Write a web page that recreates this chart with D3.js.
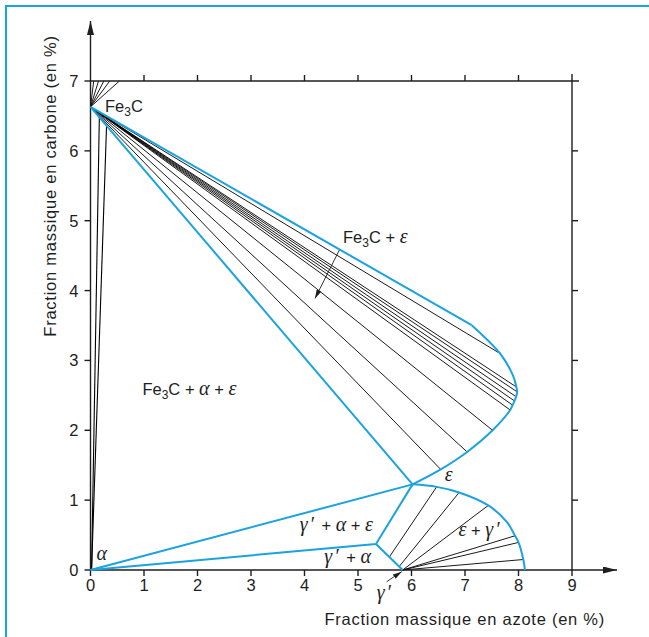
<!DOCTYPE html>
<html>
<head>
<meta charset="utf-8">
<script src="https://cdn.jsdelivr.net/npm/d3@7"></script>
<style>
  body { margin: 0; background: #fff; }
  svg { display: block; }
</style>
</head>
<body>
<div id="chart"></div>
<script>
// ---- data (mass % N on x, mass % C on y) ----
var xTicks = [0, 1, 2, 3, 4, 5, 6, 7, 8, 9]
var yTicks = [0, 1, 2, 3, 4, 5, 6, 7]

var fe3cPoint = [0, 6.63]
var alphaPoint = [0, 0]
var epsilonPoint = [6.02, 1.226]
var gammaAlphaCorner = [5.336, 0.372]
var gammaPoint = [5.835, 0]
var fe3cEpsCorner = [7.125, 3.505]

// Fe3C tie lines running up to the 7 % line
var fanTopX = [0.06, 0.15, 0.25, 0.36, 0.54]
// alpha tie lines running up to the Fe3C / eps boundary
var alphaTieEnds = [[0.165, 6.48], [0.30, 6.36]]

// eps boundary of the Fe3C + eps field
var epsCurve = [[7.125, 3.505], [7.654, 3.10], [7.90, 2.78], [7.96, 2.62], [7.975, 2.55],
  [7.955, 2.48], [7.925, 2.42], [7.89, 2.36], [7.845, 2.29], [7.515, 2.0],
  [7.04, 1.69], [6.546, 1.44], [6.02, 1.226]]
var epsTieEnds = [[7.654, 3.10], [7.96, 2.62], [7.975, 2.55], [7.955, 2.48], [7.925, 2.42],
  [7.89, 2.36], [7.845, 2.29], [7.515, 2.0], [7.04, 1.69], [6.546, 1.44]]

// eps boundary of the eps + gamma' field
var gammaCurve = [[6.02, 1.226], [6.47, 1.19], [6.89, 1.11], [7.436, 0.925], [7.78, 0.69],
  [7.935, 0.49], [8.0, 0.395], [8.09, 0.15], [8.12, 0]]
var gammaTieStarts = [[5.585, 0.186], [5.77, 0.05], [5.835, 0], [5.835, 0], [5.835, 0], [5.835, 0]]
var gammaTieEnds = [[6.47, 1.19], [6.89, 1.11], [7.436, 0.925], [7.935, 0.49], [8.0, 0.395], [8.09, 0.15]]

var phaseLabels = [
  { text: 'Fe₃C', x: 0.27, y: 6.55 },
  { text: 'Fe₃C + ε', x: 4.72, y: 4.68 },
  { text: 'Fe₃C + α + ε', x: 0.97, y: 2.5 },
  { text: 'ε', x: 6.62, y: 1.28 },
  { text: 'ε + γ′', x: 6.88, y: 0.49 },
  { text: 'γ′ + α + ε', x: 3.91, y: 0.56 },
  { text: 'γ′ + α', x: 4.37, y: 0.1 },
  { text: 'α', x: 0.11, y: 0.15 },
  { text: 'γ′', x: 5.35, y: -0.41 }
]
var pointerArrows = [
  { from: [4.65, 4.578], to: [4.196, 3.887] },
  { from: [5.536, -0.167], to: [5.817, -0.024] }
]

// ---- layout ----
var width = 649
var height = 637
var blue = '#1aa3e0'
var ink = '#1e1e1e'
var sans = '"Liberation Sans", Arial, Helvetica, sans-serif'
var serif = '"Liberation Serif", "Times New Roman", serif'

var x = d3.scaleLinear().domain([0, 9]).range([90.5, 572])
var y = d3.scaleLinear().domain([0, 7]).range([570, 81])

var svg = d3.select('#chart')
  .append('svg')
  .attr('width', width)
  .attr('height', height)

var defs = svg.append('defs')
function marker(id, len, half) {
  defs.append('marker')
    .attr('id', id)
    .attr('viewBox', '0 0 ' + len + ' ' + half * 2)
    .attr('refX', len)
    .attr('refY', half)
    .attr('markerWidth', len)
    .attr('markerHeight', half * 2)
    .attr('markerUnits', 'userSpaceOnUse')
    .attr('orient', 'auto')
    .append('path')
    .attr('d', 'M0,0L' + len + ',' + half + 'L0,' + half * 2 + 'Z')
    .attr('fill', ink)
}
marker('axisHead', 14, 3.5)
marker('pointHead', 9, 2.6)

// page frame (blue rule top and left)
svg.append('line').attr('x1', 5).attr('x2', width).attr('y1', 6).attr('y2', 6)
  .attr('stroke', blue).attr('stroke-width', 2)
svg.append('line').attr('x1', 6).attr('x2', 6).attr('y1', 5).attr('y2', height)
  .attr('stroke', blue).attr('stroke-width', 2)

var line = d3.line().x(d => x(d[0])).y(d => y(d[1]))
var curve = d3.line().x(d => x(d[0])).y(d => y(d[1])).curve(d3.curveCatmullRom.alpha(0.5))

// ---- thin tie lines ----
var ties = svg.append('g').attr('stroke', '#000').attr('stroke-width', 0.9).attr('fill', 'none')
ties.selectAll('.fan')
  .data(fanTopX)
  .join('line')
  .attr('x1', x(fe3cPoint[0])).attr('y1', y(fe3cPoint[1]))
  .attr('x2', d => x(d)).attr('y2', y(7))
ties.selectAll('.alpha-tie')
  .data(alphaTieEnds)
  .join('line')
  .attr('class', 'alpha-tie')
  .attr('stroke-width', 1.1)
  .attr('x1', x(0.02)).attr('y1', y(0))
  .attr('x2', d => x(d[0])).attr('y2', d => y(d[1]))
ties.selectAll('.eps-tie')
  .data(epsTieEnds)
  .join('line')
  .attr('class', 'eps-tie')
  .attr('x1', x(fe3cPoint[0])).attr('y1', y(fe3cPoint[1]))
  .attr('x2', d => x(d[0])).attr('y2', d => y(d[1]))
ties.selectAll('.gamma-tie')
  .data(gammaTieEnds)
  .join('line')
  .attr('class', 'gamma-tie')
  .attr('x1', (d, i) => x(gammaTieStarts[i][0])).attr('y1', (d, i) => y(gammaTieStarts[i][1]))
  .attr('x2', d => x(d[0])).attr('y2', d => y(d[1]))

// ---- axes frame ----
var axes = svg.append('g').attr('stroke', ink).attr('stroke-width', 1.4).attr('fill', 'none')
axes.append('line')
  .attr('x1', x(0)).attr('y1', y(0)).attr('x2', x(0)).attr('y2', 21)
  .attr('marker-end', 'url(#axisHead)')
axes.append('line')
  .attr('x1', x(0)).attr('y1', y(0)).attr('x2', 617).attr('y2', y(0))
  .attr('marker-end', 'url(#axisHead)')
axes.append('line')
  .attr('x1', x(0)).attr('y1', y(7)).attr('x2', x(9) + 7).attr('y2', y(7))
axes.append('line')
  .attr('x1', x(9)).attr('y1', y(7) - 7).attr('x2', x(9)).attr('y2', y(0))

var tickLen = 6
axes.selectAll('.ytick').data(yTicks).join('line')
  .attr('x1', x(0) - tickLen).attr('x2', x(0)).attr('y1', d => y(d)).attr('y2', d => y(d))
axes.selectAll('.xtick').data(xTicks).join('line').attr('class', 'xtick')
  .attr('x1', d => x(d)).attr('x2', d => x(d)).attr('y1', y(0)).attr('y2', y(0) + tickLen)
axes.selectAll('.ttick').data(xTicks.slice(1, 9)).join('line').attr('class', 'ttick')
  .attr('x1', d => x(d)).attr('x2', d => x(d)).attr('y1', y(7)).attr('y2', y(7) - tickLen)
axes.selectAll('.rtick').data(yTicks.slice(1, 7)).join('line').attr('class', 'rtick')
  .attr('x1', x(9)).attr('x2', x(9) + tickLen).attr('y1', d => y(d)).attr('y2', d => y(d))

svg.append('g').selectAll('text').data(yTicks).join('text')
  .attr('x', x(0) - 12).attr('y', d => y(d)).attr('dy', '0.36em')
  .attr('text-anchor', 'end')
  .attr('font-family', sans).attr('font-size', 16.5).attr('fill', ink)
  .text(d => d)
svg.append('g').selectAll('text').data(xTicks).join('text')
  .attr('x', d => x(d)).attr('y', y(0) + 21)
  .attr('text-anchor', 'middle')
  .attr('font-family', sans).attr('font-size', 16.5).attr('fill', ink)
  .text(d => d)

svg.append('text')
  .attr('x', 605).attr('y', 625)
  .attr('text-anchor', 'end')
  .attr('font-family', sans).attr('font-size', 16.5).attr('letter-spacing', 0.75).attr('fill', ink)
  .text('Fraction massique en azote (en %)')
svg.append('text')
  .attr('transform', 'translate(56,186) rotate(-90)')
  .attr('text-anchor', 'middle')
  .attr('font-family', sans).attr('font-size', 16.5).attr('letter-spacing', 0.75).attr('fill', ink)
  .text('Fraction massique en carbone (en %)')

// ---- blue phase boundaries ----
var bounds = svg.append('g').attr('stroke', blue).attr('stroke-width', 2).attr('fill', 'none')
  .attr('stroke-linejoin', 'round')
bounds.append('path').attr('d', line([fe3cPoint, fe3cEpsCorner]))
bounds.append('path').attr('d', curve(epsCurve))
bounds.append('path').attr('d', line([fe3cPoint, epsilonPoint]))
bounds.append('path').attr('d', line([alphaPoint, epsilonPoint]))
bounds.append('path').attr('d', line([alphaPoint, gammaAlphaCorner, epsilonPoint]))
bounds.append('path').attr('d', line([gammaAlphaCorner, gammaPoint]))
bounds.append('path').attr('d', curve(gammaCurve))

// ---- pointers ----
svg.append('g').selectAll('line').data(pointerArrows).join('line')
  .attr('x1', d => x(d.from[0])).attr('y1', d => y(d.from[1]))
  .attr('x2', d => x(d.to[0])).attr('y2', d => y(d.to[1]))
  .attr('stroke', ink).attr('stroke-width', 0.9)
  .attr('marker-end', 'url(#pointHead)')

// ---- phase labels: Greek in italic serif, ₃ as subscript ----
svg.append('g').selectAll('text').data(phaseLabels).join('text')
  .attr('x', d => x(d.x)).attr('y', d => y(d.y))
  .attr('font-family', sans).attr('font-size', 16.5).attr('fill', ink)
  .each(function(d) {
    var t = d3.select(this)
    var shift = 0
    var afterPrime = false
    Array.from(d.text).forEach(function(ch) {
      var s = t.append('tspan')
      if (ch === '₃') {
        s.text('3').attr('font-size', 12).attr('dy', 4)
        shift = 4
        return
      }
      if (shift) { s.attr('dy', -shift); shift = 0 }
      if (afterPrime) { s.attr('dx', 3); afterPrime = false }
      if ('αεγ′'.indexOf(ch) >= 0) {
        s.attr('font-family', serif).attr('font-style', 'italic').attr('font-size', 20)
      }
      if (ch === '′') { s.attr('dx', 2); afterPrime = true }
      s.text(ch)
    })
  })
</script>
</body>
</html>
